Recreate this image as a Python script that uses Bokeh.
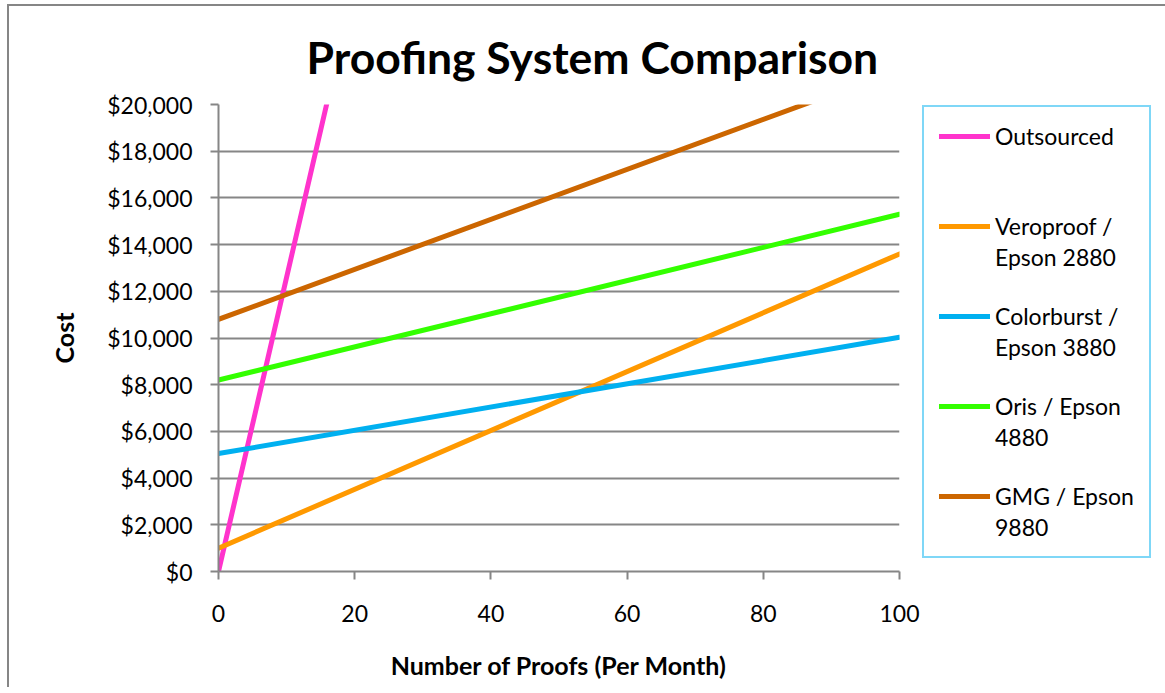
from bokeh.plotting import figure
from bokeh.models import Range1d, NumeralTickFormatter, Legend, LegendItem, FixedTicker
from bokeh.embed import file_html
from bokeh.resources import INLINE

# ---- data ----
proofs = [0, 100]
legend_first_lines = ["Outsourced", "Veroproof /", "Colorburst /", "Oris / Epson", "GMG / Epson"]
legend_second_lines = ["\u00a0", "Epson 2880", "Epson 3880", "4880", "9880"]
outsourced = [0, 126000]
veroproof = [1000, 13600]
colorburst = [5050, 10030]
oris = [8200, 15300]
gmg = [10800, 21500]
colors = ["#FF33CC", "#FF9900", "#00B0F0", "#33FF00", "#CC6600"]
x_ticks = [0, 20, 40, 60, 80, 100]
y_ticks = list(range(0, 20001, 2000))

FONT = "Lato"
GRAY = "#868686"

p = figure(frame_width=681, frame_height=467, output_backend="svg", toolbar_location=None,
           x_range=Range1d(0, 100), y_range=Range1d(0, 20000),
           min_border_left=209, min_border_right=5, min_border_top=97, min_border_bottom=116)
p.styles = {"border-left": "2px solid #868686", "border-top": "2px solid #868686",
            "margin-left": "7px", "margin-top": "4px"}
p.outline_line_color = None
p.background_fill_color = "white"
p.border_fill_color = "white"

p.title.text = "Proofing System Comparison"
p.title.align = "left"
p.title.offset = 88
p.title.standoff = 43
p.title.text_font = FONT
p.title.text_font_style = "bold"
p.title.text_font_size = "44.5px"
p.title.text_color = "black"

renderers = []
for vals, c in zip([outsourced, veroproof, colorburst, oris, gmg], colors):
    r = p.line(proofs, vals, line_color=c, line_width=5, line_cap="round")
    renderers.append(r)

p.xgrid.visible = False
p.ygrid.grid_line_color = GRAY
p.ygrid.grid_line_width = 2
p.ygrid.ticker = FixedTicker(ticks=y_ticks)

p.xaxis.ticker = FixedTicker(ticks=x_ticks)
p.yaxis.ticker = FixedTicker(ticks=y_ticks)
p.yaxis.formatter = NumeralTickFormatter(format="$0,0")

for ax in (p.xaxis[0], p.yaxis[0]):
    ax.axis_line_color = GRAY
    ax.axis_line_width = 2
    ax.major_tick_line_color = GRAY
    ax.major_tick_line_width = 2
    ax.major_tick_in = 0
    ax.major_tick_out = 8
    ax.minor_tick_line_color = None
    ax.major_label_text_font = FONT
    ax.major_label_text_font_size = "23px"
    ax.major_label_text_color = "black"
    ax.axis_label_text_font = FONT
    ax.axis_label_text_font_style = "bold"
    ax.axis_label_text_font_size = "25px"
    ax.axis_label_text_color = "black"

p.xaxis.axis_label = "Number of Proofs (Per Month)"
p.yaxis.axis_label = "Cost"
p.xaxis.major_label_standoff = 25
p.yaxis.major_label_standoff = 18
p.xaxis.axis_label_standoff = 25
p.yaxis.axis_label_standoff = 25

# legend: first line of each entry carries the line glyph, second line is text only
items = []
n = len(legend_first_lines)
for i, (l1, l2, r) in enumerate(zip(legend_first_lines, legend_second_lines, renderers)):
    items.append(LegendItem(label=l1, renderers=[r]))
    items.append(LegendItem(label=l2 + ("\n\u00a0" if i < n - 1 else ""), renderers=[]))

legend = Legend(items=items, location=(23, 13), orientation="vertical",
                border_line_color="#00B0F0", border_line_width=2,
                background_fill_color="white", background_fill_alpha=1,
                padding=15, spacing=3, glyph_width=51, glyph_height=20, label_height=0,
                label_width=137, label_standoff=5, label_text_font=FONT,
                label_text_font_size="23px", label_text_color="black", margin=0)
p.add_layout(legend, "right")

open("out.html", "w").write(file_html(p, INLINE))
